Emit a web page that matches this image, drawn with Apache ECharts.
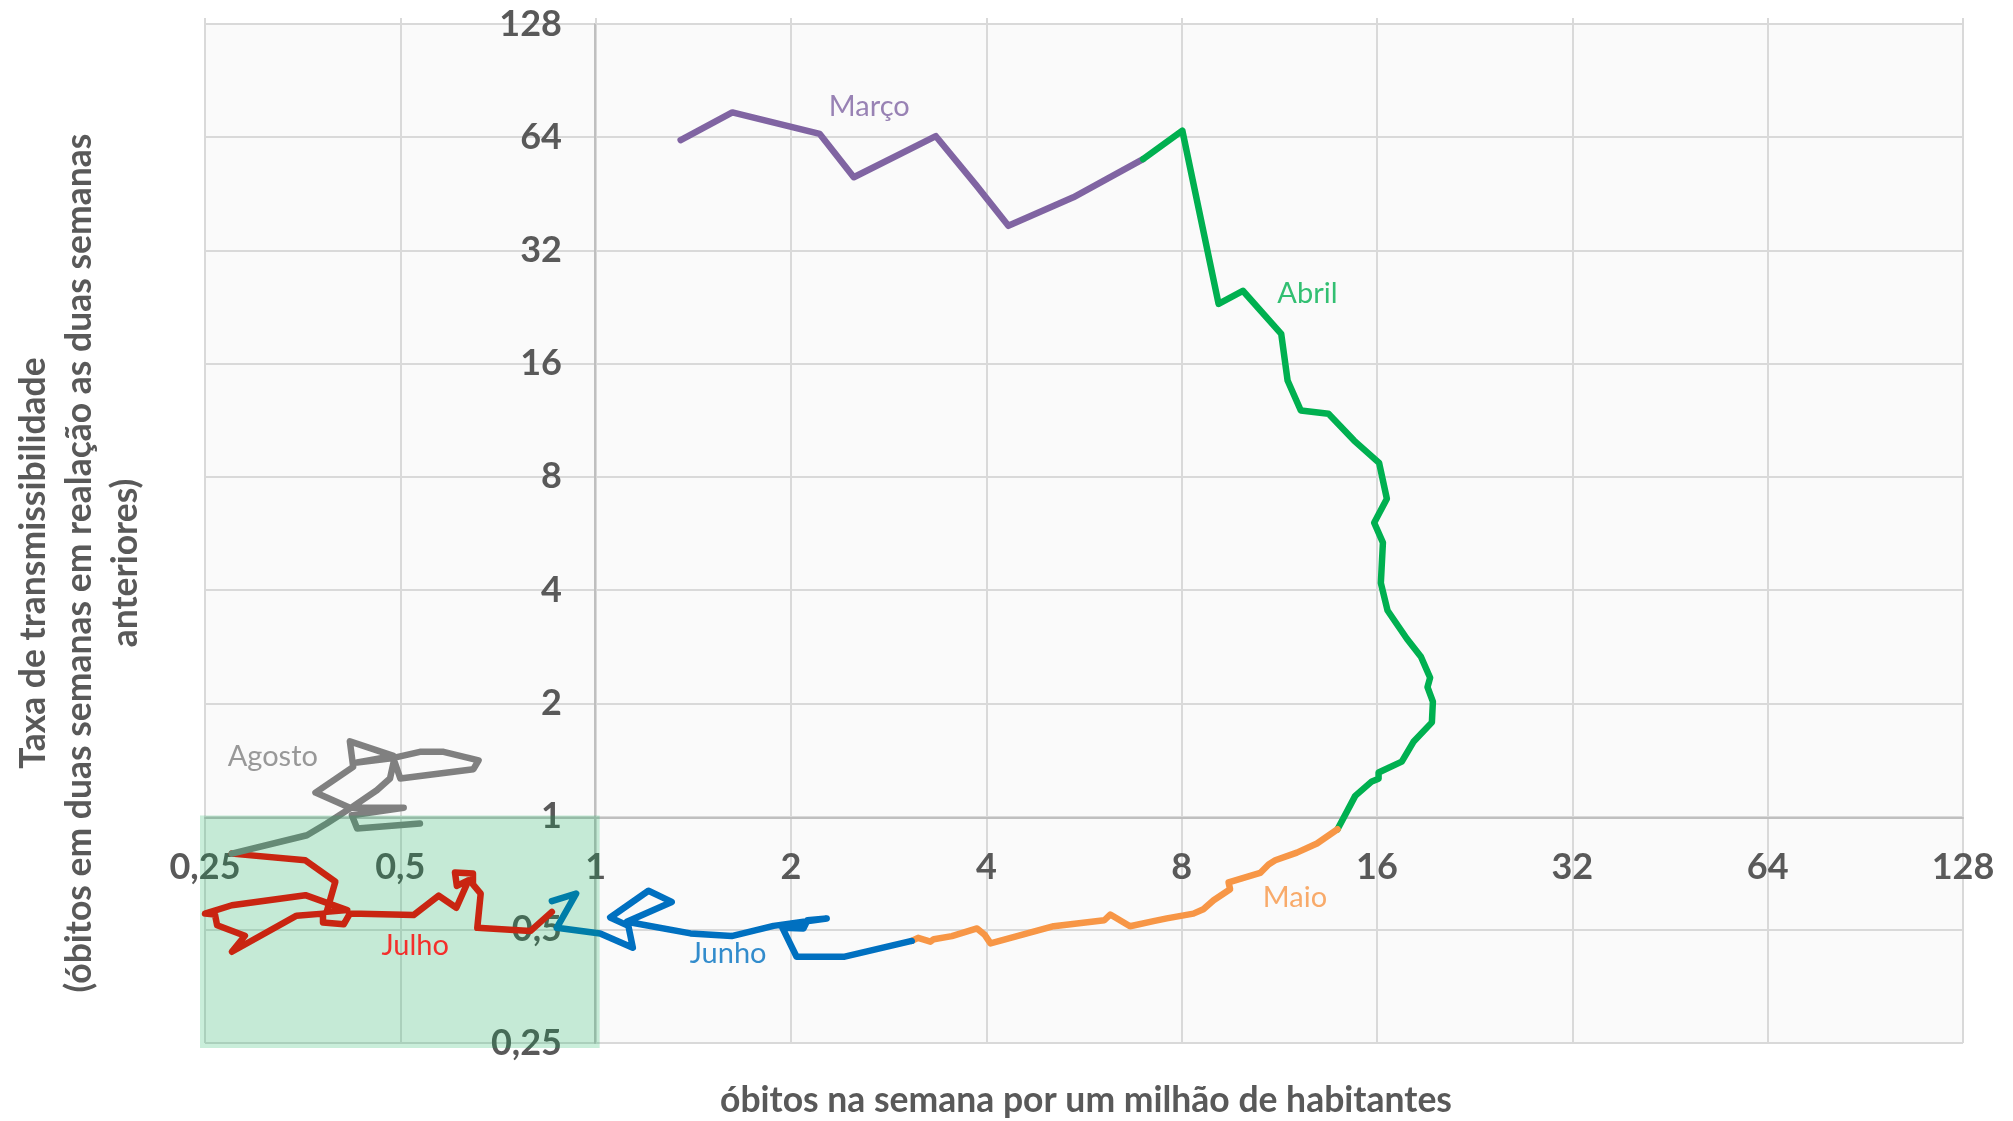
<!DOCTYPE html>
<html><head><meta charset="utf-8">
<script src="https://cdn.jsdelivr.net/npm/echarts/dist/echarts.min.js"></script>
<style>html,body{margin:0;padding:0;background:#fff}#c{width:2013px;height:1121px}</style>
</head><body><div id="c"></div><script>
// Tick labels (log base 2 axes)
const tickLabels = ['0,25','0,5','1','2','4','8','16','32','64','128'];

// Trajectory per month: x = deaths per week per million, y = transmissibility rate
const marcoX = [1.352,1.624,2.215,2.499,3.344,3.855,4.325,5.447,6.976];
const marcoY = [62.9,74.5,65.3,50.1,64.4,47.8,37.2,44.3,56.0];

const abrilX = [6.976,8.02,9.12,9.94,11.39,11.65,12.21,13.47,14.75,16.12,16.57,15.84,16.34,16.22,16.61,17.79,18.70,19.32,19.14,19.51,19.44,18.21,17.47,16.09,16.09,15.71,14.81,13.91];
const abrilY = [56.0,66.6,23.07,25.0,19.2,14.43,12.01,11.77,9.99,8.72,7.0,6.04,5.35,4.18,3.53,2.97,2.66,2.34,2.21,2.02,1.78,1.58,1.40,1.31,1.26,1.24,1.135,0.925];

const maioX = [13.91,12.93,12.04,11.15,10.89,10.57,9.45,9.50,8.96,8.64,8.34,7.59,7.24,6.66,6.21,6.08,5.08,4.06,3.98,3.87,3.54,3.32,3.28,3.14,3.07];
const maioY = [0.925,0.848,0.802,0.765,0.746,0.708,0.668,0.641,0.599,0.567,0.552,0.536,0.527,0.511,0.549,0.530,0.511,0.460,0.484,0.504,0.481,0.472,0.465,0.476,0.467];

const junhoX = [3.07,2.42,2.04,1.94,2.09,2.12,2.27,1.88,1.62,1.40,1.117,1.31,1.206,1.053,1.123,1.141,1.016,0.871,0.933,0.856];
const junhoY = [0.467,0.424,0.424,0.506,0.504,0.530,0.536,0.512,0.481,0.489,0.525,0.593,0.635,0.539,0.512,0.448,0.489,0.506,0.624,0.596];

const julhoX = [0.856,0.793,0.657,0.665,0.647,0.647,0.607,0.611,0.637,0.610,0.573,0.524,0.418,0.409,0.380,0.380,0.346,0.275,0.288,0.261,0.259,0.25,0.275,0.357,0.414,0.385,0.397,0.357,0.275];
const julhoY = [0.558,0.496,0.506,0.624,0.660,0.706,0.710,0.654,0.677,0.572,0.616,0.547,0.552,0.517,0.523,0.552,0.545,0.437,0.482,0.514,0.549,0.552,0.581,0.618,0.564,0.558,0.671,0.765,0.797];

const agostoX = [0.275,0.359,0.385,0.418,0.460,0.482,0.489,0.500,0.648,0.660,0.583,0.536,0.488,0.429,0.488,0.418,0.423,0.370,0.418,0.506,0.421,0.429,0.536];
const agostoY = [0.797,0.892,0.958,1.05,1.175,1.262,1.411,1.262,1.336,1.411,1.486,1.486,1.432,1.392,1.45,1.585,1.355,1.158,1.055,1.055,1.008,0.929,0.958];

// Month annotations (data coordinates)
const monthNames  = ['Março','Abril','Maio','Junho','Julho','Agosto'];
const monthLabelX = [2.64,12.5,11.96,1.60,0.527,0.318];
const monthLabelY = [77.0,24.5,0.607,0.433,0.455,1.44];

// Highlighted zone (x and y from 0.25 to 1)
const zoneX = [0.25, 1];
const zoneY = [0.25, 1];

const lineColors  = ['#8064A2','#00B050','#F79646','#0070C0','#FF0000','#808080'];
const labelColors = ['#8064A2','#00B050','#F79646','#0070C0','#FF0000','#808080'];

const monthsX = [marcoX, abrilX, maioX, junhoX, julhoX, agostoX];
const monthsY = [marcoY, abrilY, maioY, junhoY, julhoY, agostoY];

function pairs(xs, ys){ return xs.map((x,i)=>[x, ys[i]]); }
function fmt(v){ const i = Math.round(Math.log2(v)) + 2; return tickLabels[i] || ''; }

const FONT = 'Lato';
const chart = echarts.init(document.getElementById('c'), null, {renderer:'canvas'});

const series = monthNames.map((name, k) => ({
  name, type:'line', data: pairs(monthsX[k], monthsY[k]),
  showSymbol:false, symbol:'none', smooth:false, z:2,
  lineStyle:{color:lineColors[k], width:6.5, cap:'round', join:'round'},
  emphasis:{disabled:true}, animation:false
}));

series.push({
  type:'custom', z:10, clip:false, silent:true, animation:false,
  data:[[zoneX[0], zoneY[0], zoneX[1], zoneY[1]]],
  renderItem:function(params, api){
    const p0 = api.coord([api.value(0), api.value(1)]);
    const p1 = api.coord([api.value(2), api.value(3)]);
    return {type:'rect', shape:{x:p0[0]-5, y:p1[1]-1, width:(p1[0]-p0[0])+9, height:(p0[1]-p1[1])+6},
      style:{fill:'rgba(0,176,80,0.21)'}};
  }
});

series.push({
  type:'scatter', z:20, symbolSize:0, silent:true, animation:false,
  data: monthNames.map((n,i)=>({value:[monthLabelX[i], monthLabelY[i]], name:n,
    label:{show:true, position:'inside', formatter:n, color:labelColors[i], fontSize:29, fontFamily:FONT}}))
});

chart.setOption({
  backgroundColor:'#ffffff',
  animation:false,
  grid:{left:205, top:24, width:1758, height:1019, show:true, backgroundColor:'#fafafa', borderWidth:0},
  xAxis:[{
    type:'log', logBase:2, min:0.25, max:128, interval:1, offset:-225, position:'bottom',
    axisLine:{show:true, lineStyle:{color:'#bfbfbf', width:2}},
    axisTick:{show:false},
    axisLabel:{formatter:fmt, color:'#595959', fontSize:36, fontWeight:'bold', fontFamily:FONT, margin:31, showMinLabel:true, showMaxLabel:true},
    splitLine:{show:true, lineStyle:{color:'#d9d9d9', width:2}}
  },{
    type:'log', logBase:2, min:0.25, max:128, interval:1, position:'top',
    axisLine:{show:false}, axisLabel:{show:false}, splitLine:{show:false},
    axisTick:{show:true, length:6, lineStyle:{color:'#d9d9d9', width:2}}
  }],
  yAxis:{
    type:'log', logBase:2, min:0.25, max:128, interval:1, offset:-390, position:'left',
    axisLine:{show:true, lineStyle:{color:'#bfbfbf', width:2}},
    axisTick:{show:false},
    axisLabel:{formatter:fmt, color:'#595959', fontSize:36, fontWeight:'bold', fontFamily:FONT, margin:33, showMinLabel:true, showMaxLabel:true},
    splitLine:{show:true, lineStyle:{color:'#d9d9d9', width:2}}
  },
  graphic:[
    {type:'text', x:1086, y:1101, style:{text:'óbitos na semana por um milhão de habitantes', fill:'#595959',
      font:'bold 35.5px '+FONT, textAlign:'center', textVerticalAlign:'middle'}},
    {type:'text', x:80, y:563, rotation:Math.PI/2, style:{text:'Taxa de transmissibilidade\n(óbitos em duas semanas em realação as duas semanas\nanteriores)',
      fill:'#595959', font:'bold 35.5px '+FONT, textAlign:'center', textVerticalAlign:'middle', lineHeight:46}}
  ],
  series
});
</script></body></html>
